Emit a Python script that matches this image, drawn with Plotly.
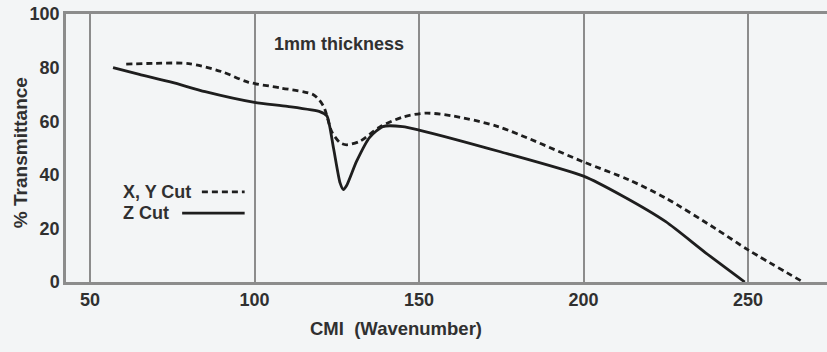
import plotly.graph_objects as go

# Z Cut (solid)
z_x = [57, 65, 75, 85, 100, 110, 120, 122, 124, 126, 127, 128, 131, 135, 139, 145, 150, 175, 200, 212, 225, 237, 249]
z_y = [80, 77.5, 74.5, 71, 67, 65.5, 63.5, 62, 50, 37, 34.5, 36, 45, 54, 58, 58, 56.7, 48.5, 39.5, 32, 22.5, 11, 0]

# X, Y Cut (dashed)
xy_x = [61, 70, 80, 90, 98, 108, 118, 121, 123.5, 126, 128, 132, 138, 145, 152, 160, 174, 200, 214, 225, 240, 250, 266]
xy_y = [81.3, 81.6, 81.5, 78.5, 74.6, 72.4, 69.8, 65.5, 56, 52, 51.2, 52.5, 57.8, 61.5, 63, 62, 58, 44.8, 38, 31.3, 20, 12, 0.5]

x_ticks = [50, 100, 150, 200, 250]
y_ticks = [0, 20, 40, 60, 80, 100]

font_fam = "Liberation Sans, Arial, sans-serif"
txt_col = "#303030"
grid_col = "#8c8c8c"
bg = "#f3f5f6"
line_col = "#1e1e1e"

fig = go.Figure()
fig.add_trace(go.Scatter(x=xy_x, y=xy_y, mode="lines", name="X, Y Cut",
                         line=dict(color=line_col, width=2.8, dash="6px,4px", shape="spline", smoothing=0.8),
                         showlegend=False))
fig.add_trace(go.Scatter(x=z_x, y=z_y, mode="lines", name="Z Cut",
                         line=dict(color=line_col, width=2.8, shape="spline", smoothing=0.6),
                         showlegend=False))

# legend samples
fig.add_annotation(x=59.5, y=33.6, text="<b>X, Y Cut</b>", showarrow=False, xanchor="left",
                   font=dict(family=font_fam, size=18, color=txt_col))
fig.add_annotation(x=59.5, y=25.7, text="<b>Z Cut</b>", showarrow=False, xanchor="left",
                   font=dict(family=font_fam, size=18, color=txt_col))
fig.add_shape(type="line", x0=84, x1=97, y0=33.6, y1=33.6,
              line=dict(color=line_col, width=2.8, dash="6px,4px"))
fig.add_shape(type="line", x0=78, x1=97, y0=25.7, y1=25.7,
              line=dict(color=line_col, width=2.8))

fig.add_annotation(x=125.8, y=88.8, text="<b>1mm thickness</b>", showarrow=False,
                   font=dict(family=font_fam, size=18, color=txt_col))

fig.add_annotation(xref="paper", yref="paper", x=0.434, y=-0.172, yanchor="middle",
                   text="<b>CMI  (Wavenumber)</b>",
                   showarrow=False, font=dict(family=font_fam, size=18.5, color=txt_col))

fig.add_annotation(xref="paper", yref="paper", x=-0.0604, y=0.481, xanchor="center", yanchor="middle",
                   textangle=-90, text="<b>% Transmittance</b>",
                   showarrow=False, font=dict(family=font_fam, size=19, color=txt_col))

fig.update_layout(
    width=827, height=352,
    margin=dict(l=66, r=0, t=14, b=70),
    paper_bgcolor=bg, plot_bgcolor=bg,
    font=dict(family=font_fam, size=18, color=txt_col),
    xaxis=dict(range=[42.7, 274], tickvals=x_ticks, ticktext=[f"<b>{v}</b>" for v in x_ticks],
               showgrid=True, gridcolor=grid_col, gridwidth=1.5, zeroline=False,
               showline=True, linecolor=grid_col, linewidth=2.5, mirror=True, ticks="",
               tickfont=dict(size=18)),
    yaxis=dict(range=[0, 100], tickvals=y_ticks, ticktext=[f"<b>{v}</b>" for v in y_ticks],
               showgrid=False, zeroline=False,
               showline=True, linecolor=grid_col, linewidth=2.5, ticks="",
               tickfont=dict(size=18)),
)

fig.write_html("out.html")
